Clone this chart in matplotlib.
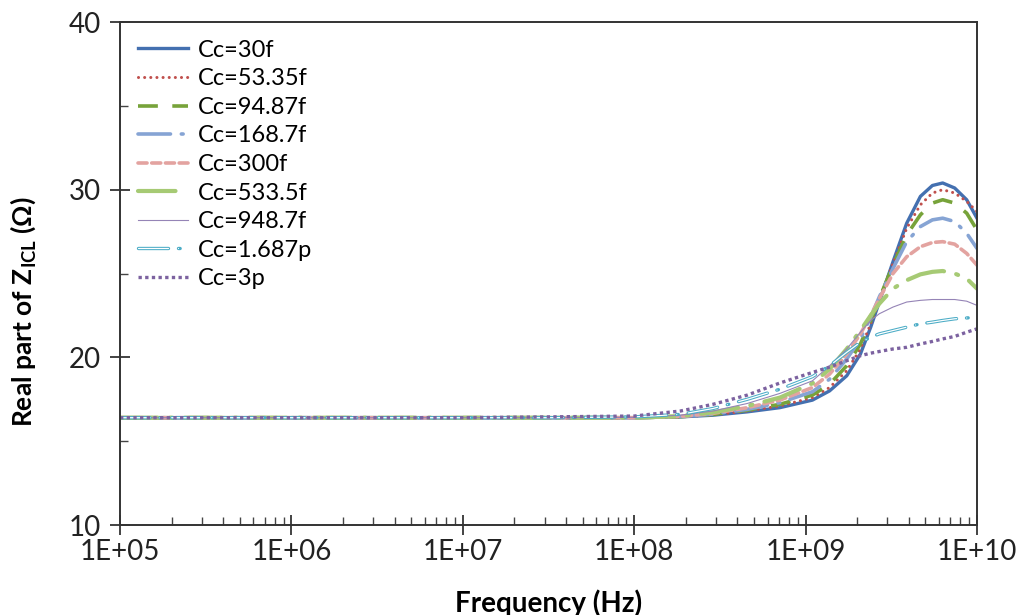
import matplotlib
matplotlib.use("Agg")
import matplotlib.pyplot as plt
from matplotlib.ticker import FixedLocator, NullFormatter
from matplotlib.legend_handler import HandlerTuple
import numpy as np

plt.rcParams["font.family"] = ["Lato", "DejaVu Sans"]
plt.rcParams["mathtext.fontset"] = "custom"
plt.rcParams["mathtext.rm"] = "Lato:bold"

# log10 of frequency (Hz) at the sampled points
log_freq = [5.0, 6.0, 7.0, 7.5, 8.0, 8.27, 8.46, 8.66, 8.85, 9.04, 9.14, 9.24, 9.32,
            9.38, 9.43, 9.51, 9.59, 9.67, 9.74, 9.80, 9.87, 9.94, 10.0]

labels = ["Cc=30f", "Cc=53.35f", "Cc=94.87f", "Cc=168.7f", "Cc=300f",
          "Cc=533.5f", "Cc=948.7f", "Cc=1.687p", "Cc=3p"]

re_30f = [16.4, 16.4, 16.4, 16.4, 16.4, 16.45, 16.55, 16.75, 17.0, 17.45, 18.0, 18.9, 20.2,
          21.8, 23.3, 25.7, 28.0, 29.6, 30.25, 30.4, 30.1, 29.4, 28.3]
re_53f = [16.4, 16.4, 16.4, 16.4, 16.4, 16.45, 16.57, 16.8, 17.1, 17.6, 18.2, 19.2, 20.5,
          22.0, 23.4, 25.6, 27.7, 29.1, 29.8, 30.0, 29.8, 29.3, 28.7]
re_95f = [16.4, 16.4, 16.4, 16.4, 16.4, 16.46, 16.6, 16.85, 17.2, 17.75, 18.4, 19.5, 20.8,
          22.2, 23.5, 25.5, 27.3, 28.5, 29.2, 29.4, 29.2, 28.6, 27.6]
re_169f = [16.4, 16.4, 16.4, 16.4, 16.4, 16.47, 16.62, 16.9, 17.3, 17.95, 18.7, 19.9, 21.1,
           22.4, 23.6, 25.3, 26.9, 27.8, 28.2, 28.3, 28.1, 27.4, 26.5]
re_300f = [16.4, 16.4, 16.4, 16.4, 16.4, 16.48, 16.66, 17.0, 17.45, 18.2, 19.0, 20.2, 21.4,
           22.5, 23.5, 25.0, 26.0, 26.6, 26.85, 26.9, 26.75, 26.2, 25.5]
re_534f = [16.4, 16.4, 16.4, 16.4, 16.4, 16.5, 16.72, 17.1, 17.6, 18.45, 19.3, 20.5, 21.6,
           22.5, 23.2, 24.1, 24.6, 24.95, 25.1, 25.15, 25.0, 24.7, 24.1]
re_949f = [16.4, 16.4, 16.4, 16.4, 16.42, 16.55, 16.8, 17.25, 17.85, 18.6, 19.5, 20.5, 21.5,
           22.2, 22.6, 23.0, 23.3, 23.4, 23.45, 23.45, 23.45, 23.35, 23.1]
re_1687p = [16.4, 16.4, 16.4, 16.4, 16.45, 16.6, 16.95, 17.5, 18.1, 18.85, 19.5, 20.3, 20.9,
            21.2, 21.4, 21.6, 21.8, 22.0, 22.1, 22.2, 22.3, 22.35, 22.4]
re_3p = [16.4, 16.4, 16.4, 16.45, 16.5, 16.8, 17.2, 17.75, 18.47, 19.1, 19.42, 19.8, 20.1,
         20.25, 20.35, 20.5, 20.6, 20.8, 20.95, 21.1, 21.25, 21.5, 21.7]

series = [re_30f, re_53f, re_95f, re_169f, re_300f, re_534f, re_949f, re_1687p, re_3p]

styles = [
    dict(color="#4470B0", lw=2.4, linestyle="-"),
    dict(color="#C0504D", lw=2.2, dashes=(0.01, 2.0), dash_capstyle="round"),
    dict(color="#77A33A", lw=2.6, dashes=(5.5, 4.0)),
    dict(color="#86A4D4", lw=2.6, dashes=(9, 3, 0.5, 3), dash_capstyle="round"),
    dict(color="#E3A3A0", lw=2.6, dashes=(2.5, 1.3), dash_capstyle="round"),
    dict(color="#A6CA74", lw=3.0, dashes=(9, 3, 0.5, 3), dash_capstyle="round"),
    dict(color="#9584B6", lw=0.8, linestyle="-"),
    dict(color="#4BACC6", lw=2.4, dashes=(9, 3, 0.5, 3), dash_capstyle="round"),
    dict(color="#7C62A0", lw=2.4, dashes=(1.0, 1.0), dash_capstyle="butt"),
]

freq = np.power(10.0, log_freq)

fig = plt.figure(figsize=(10.18, 6.15), dpi=100)
ax = fig.add_axes([0.1179, 0.1463, 0.8418, 0.8179])

handles = []
for y, lab, st in zip(series, labels, styles):
    (ln,) = ax.plot(freq, y, label=lab, **st)
    if lab == "Cc=1.687p":
        (inner,) = ax.plot(freq, y, color="white", lw=0.9,
                           dashes=(9 * 2.4 / 0.9, 3 * 2.4 / 0.9, 0.01, 3.5 * 2.4 / 0.9),
                           dash_capstyle="round")
        handles.append((ln, inner))
    else:
        handles.append(ln)

ax.set_xscale("log")
ax.set_xlim(1e5, 1e10)
ax.set_ylim(10, 40)

ax.xaxis.set_major_locator(FixedLocator([1e5, 1e6, 1e7, 1e8, 1e9, 1e10]))
minor_x = [m * 10 ** d for d in range(5, 10) for m in range(2, 10)]
ax.xaxis.set_minor_locator(FixedLocator(minor_x))
ax.xaxis.set_minor_formatter(NullFormatter())
ax.set_xticklabels(["1E+05", "1E+06", "1E+07", "1E+08", "1E+09", "1E+10"])
ax.set_yticks([10, 20, 30, 40])
ax.yaxis.set_minor_locator(FixedLocator([15, 25, 35]))

ax.tick_params(axis="both", which="major", direction="inout", length=14, width=1.2,
               labelsize=20, colors="#222222")
ax.tick_params(axis="both", which="minor", direction="in", length=6, width=1.0,
               colors="#444444")
ax.tick_params(axis="x", which="major", pad=3)
ax.tick_params(axis="y", which="major", pad=7)

for sp in ax.spines.values():
    sp.set_linewidth(1.4)
    sp.set_color("#333333")

ax.set_xlabel("Frequency (Hz)", fontsize=20, fontweight="bold")
ax.set_ylabel(r"Real part of Z$_{\mathrm{ICL}}$ (Ω)", fontsize=19, fontweight="bold")
ax.xaxis.set_label_coords(0.5, -0.127)
ax.yaxis.set_label_coords(-0.096, 0.425)

ax.legend(handles, labels, loc="upper left", bbox_to_anchor=(0.0, 1.0), frameon=False,
          fontsize=17, handlelength=2.15, handletextpad=0.38, labelspacing=0.32,
          borderaxespad=0.35, handler_map={tuple: HandlerTuple(ndivide=1)})

fig.savefig("out.png", dpi=100)
